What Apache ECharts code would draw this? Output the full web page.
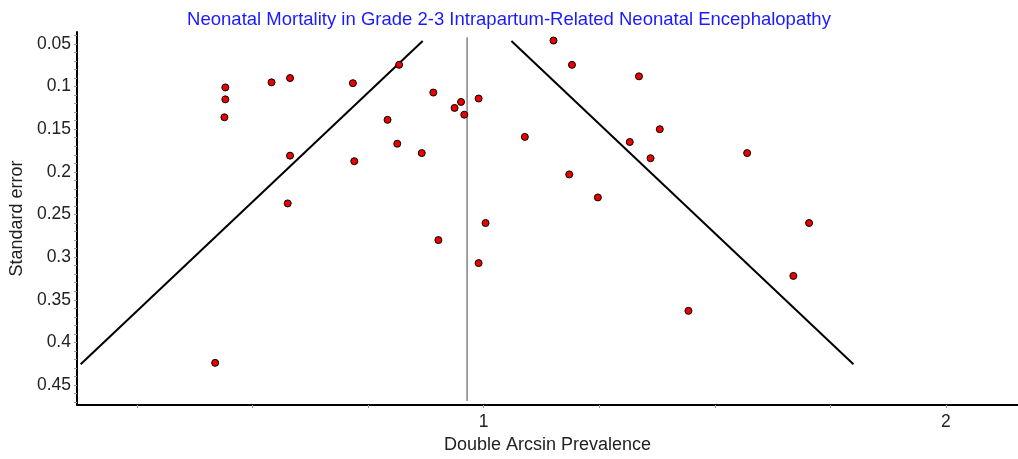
<!DOCTYPE html>
<html>
<head>
<meta charset="utf-8">
<script src="https://cdn.jsdelivr.net/npm/echarts@6/dist/echarts.min.js"></script>
<style>
  html, body { margin: 0; padding: 0; background: #fff; }
  #chart { width: 1018px; height: 459px; }
</style>
</head>
<body>
<div id="chart"></div>
<script>
// study estimates: double arcsin prevalence (x) vs standard error (y)
const prevalence = [
  0.441, 0.441, 0.439, 0.541, 0.581, 0.717, 0.817, 0.891, 0.951, 0.937,
  0.958, 0.989, 0.792, 0.813, 0.866, 0.581, 0.720, 0.576, 1.004, 0.902,
  0.989, 0.419, 1.151, 1.191, 1.336, 1.089, 1.381, 1.316, 1.361, 1.570,
  1.185, 1.247, 1.704, 1.670, 1.443
]
const stdError = [
  0.101, 0.115, 0.136, 0.095, 0.090, 0.096, 0.0745, 0.107, 0.118, 0.125,
  0.133, 0.114, 0.139, 0.167, 0.178, 0.181, 0.1875, 0.237, 0.260, 0.280,
  0.307, 0.424, 0.046, 0.0745, 0.088, 0.159, 0.150, 0.165, 0.184, 0.178,
  0.203, 0.230, 0.260, 0.322, 0.363
]

// pooled estimate and funnel limits
const pooledLine = [[0.964, 0.0423], [0.964, 0.4687]]
const funnelLeft = [[0.128, 0.4255], [0.868, 0.0465]]
const funnelRight = [[1.060, 0.0465], [1.800, 0.4255]]

const xTicks = [0.25, 0.5, 0.75, 1, 1.25, 1.5, 1.75, 2]
const xTickLabels = [1, 2]
const yTickLabels = [0.05, 0.1, 0.15, 0.2, 0.25, 0.3, 0.35, 0.4, 0.45]

const yMinorTicks = []
for (let i = 4; i <= 47; i++) yMinorTicks.push(i / 100)

const font = 'Liberation Sans, Arial, Helvetica, sans-serif'

const chart = echarts.init(document.getElementById('chart'), null, { renderer: 'canvas' })
chart.setOption({
  animation: false,
  backgroundColor: '#fff',
  title: {
    text: 'Neonatal Mortality in Grade 2-3 Intrapartum-Related Neonatal Encephalopathy',
    left: 'center',
    top: 5,
    textStyle: { color: '#1a1aff', fontSize: 18.5, fontWeight: 'normal', fontFamily: font }
  },
  grid: { left: 76, right: 0, top: 32, bottom: 51 },
  xAxis: {
    type: 'value',
    min: 0.12,
    max: 2.156,
    name: 'Double Arcsin Prevalence',
    nameLocation: 'middle',
    nameGap: 31,
    nameTextStyle: { color: '#222', fontSize: 18, fontFamily: font },
    axisLine: { show: true, onZero: false, lineStyle: { color: '#000', width: 2 } },
    axisTick: { show: true, customValues: xTicks, length: 3, lineStyle: { color: '#999' } },
    axisLabel: { customValues: xTickLabels, color: '#222', fontSize: 17.5, fontFamily: font, margin: 8 },
    splitLine: { show: false }
  },
  yAxis: {
    type: 'value',
    inverse: true,
    min: 0.036,
    max: 0.4734,
    name: 'Standard error',
    nameLocation: 'middle',
    nameGap: 46,
    nameTextStyle: { color: '#222', fontSize: 18, fontFamily: font },
    axisLine: { show: true, onZero: false, lineStyle: { color: '#000', width: 2 } },
    axisTick: { show: true, customValues: yMinorTicks, length: 3, lineStyle: { color: '#999' } },
    axisLabel: { customValues: yTickLabels, color: '#222', fontSize: 17.5, fontFamily: font, margin: 6 },
    splitLine: { show: false }
  },
  series: [
    {
      type: 'line',
      data: pooledLine,
      symbol: 'none',
      lineStyle: { color: '#444', width: 1 },
      z: 1
    },
    {
      type: 'line',
      data: funnelLeft,
      symbol: 'none',
      lineStyle: { color: '#000', width: 2 },
      z: 2
    },
    {
      type: 'line',
      data: funnelRight,
      symbol: 'none',
      lineStyle: { color: '#000', width: 2 },
      z: 2
    },
    {
      type: 'scatter',
      data: prevalence.map((x, i) => [x, stdError[i]]),
      symbol: 'circle',
      symbolSize: 7,
      itemStyle: { color: '#ee0000', borderColor: '#000', borderWidth: 1, opacity: 1 },
      z: 3
    }
  ]
})
</script>
</body>
</html>
